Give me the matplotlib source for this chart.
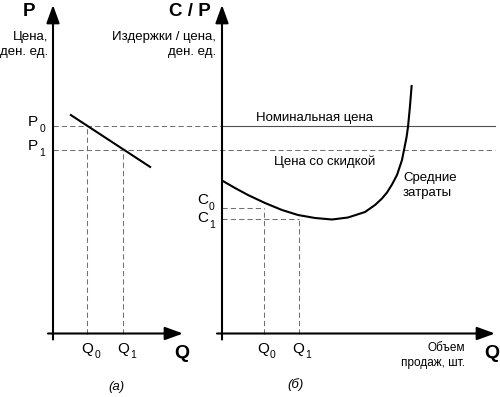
import matplotlib.pyplot as plt

plt.rcParams['font.family'] = ['Liberation Sans', 'DejaVu Sans']

# (а) цена и объём продаж
q_a = [3.4, 7.0]            # Q0, Q1
p_a = [20.8, 18.4]          # P0, P1
demand_q = [1.7, 9.8]
demand_p = [21.9, 16.6]

# (б) средние затраты
q_b = [4.2, 7.7]            # Q0, Q1
c_b = [12.55, 11.45]        # C0, C1
cost_q = [0.0, 1.3, 2.6, 4.3, 6.0, 7.6, 9.3, 11.0, 12.6, 14.3, 15.3, 16.0,
          16.5, 17.0, 17.5, 18.0, 18.2, 18.45, 18.6, 18.8, 18.97]
cost_c = [15.3, 14.55, 13.85, 13.05, 12.35, 11.85, 11.55, 11.4, 11.6, 12.15,
          12.85, 13.5, 14.1, 14.9, 15.85, 17.35, 18.35, 19.6, 20.65, 22.75, 24.85]

W, H = 500, 397
fig = plt.figure(figsize=(W / 100, H / 100), dpi=100)

ax1 = fig.add_axes([53 / W, 1 - 333.5 / H, 130 / W, 328.5 / H])
ax2 = fig.add_axes([222 / W, 1 - 333.5 / H, 273 / W, 328.5 / H])
ax1.set_xlim(0, 13)
ax2.set_xlim(0, 27.3)
for ax in (ax1, ax2):
    ax.set_ylim(0, 32.85)
    ax.axis('off')

dash = dict(color='#707070', lw=0.75, ls=(0, (5, 3)), clip_on=False)
arrow = dict(arrowstyle='-|>,head_length=0.55,head_width=0.2', lw=1.5,
             color='black', shrinkA=0, shrinkB=0, mutation_scale=20)


def axis_arrows(ax, xmax):
    ax.annotate('', xy=(0, 32.85), xytext=(0, -0.6), arrowprops=arrow,
                annotation_clip=False)
    ax.annotate('', xy=(xmax, 0), xytext=(-0.5, 0), arrowprops=arrow,
                annotation_clip=False)


axis_arrows(ax1, 13)
axis_arrows(ax2, 27.3)

# линии цен через обе панели
x_axis2 = ax1.transData.inverted().transform(ax2.transData.transform((0, 0)))[0]
x_end = ax1.transData.inverted().transform(ax2.transData.transform((27.3, 0)))[0]
ax1.plot([0, x_axis2], [p_a[0], p_a[0]], **dash)
ax2.plot([0, 27.3], [p_a[0], p_a[0]], color='#505050', lw=0.8, clip_on=False)
ax1.plot([0, x_end], [p_a[1], p_a[1]], **dash)

# (а)
ax1.plot(demand_q, demand_p, color='black', lw=1.5, clip_on=False,
         solid_capstyle='butt')
for q, p in zip(q_a, p_a):
    ax1.plot([q, q], [0, p], **dash)

# (б)
ax2.plot(cost_q, cost_c, color='black', lw=1.5, clip_on=False,
         solid_joinstyle='round', solid_capstyle='butt')
for q, c in zip(q_b, c_b):
    ax2.plot([q, q], [0, c], **dash)
    ax2.plot([0, q], [c, c], **dash)


# подписи с индексами: буква и цифра отдельно
def sub_label(ax, x, y, letter, digit, dx, dy, va):
    t = ax.annotate(letter, xy=(x, y), xytext=(dx, dy), textcoords='offset pixels',
                    ha='left', va=va, fontsize=11)
    ax.annotate(digit, xy=(1, 0), xycoords=t, xytext=(1, -5),
                textcoords='offset pixels', ha='left', va='bottom', fontsize=7.5)


for i, p in enumerate(p_a):
    sub_label(ax1, 0, p, 'P', str(i), -25, 0, 'baseline')
for i, q in enumerate(q_a):
    sub_label(ax1, q, 0, 'Q', str(i), -5.5, -8, 'top')
for i, q in enumerate(q_b):
    sub_label(ax2, q, 0, 'Q', str(i), -7, -8, 'top')
for i, (c, dy) in enumerate(zip(c_b, [4, -3])):
    sub_label(ax2, 0, c, 'C', str(i), -25, dy, 'baseline')


def T(x, y, s, **kw):
    kw.setdefault('ha', 'center')
    kw.setdefault('va', 'center')
    kw.setdefault('fontsize', 9.5)
    fig.text(x / W, 1 - y / H, s, **kw)


T(29, 12, 'P', fontsize=13.5, fontweight='bold')
T(48, 37, 'Цена,', ha='right')
T(48, 52, 'ден. ед.', ha='right')
T(190, 12, 'C / P', fontsize=13.5, fontweight='bold')
T(216, 37, 'Издержки / цена,', ha='right')
T(216, 52, 'ден. ед.', ha='right')
T(315, 118, 'Номинальная цена')
T(325, 162, 'Цена со скидкой')
T(403, 178, 'Средние', ha='left')
T(403, 193, 'затраты', ha='left')
T(465, 348, 'Объем', ha='right', fontsize=8.5)
T(465, 363, 'продаж, шт.', ha='right', fontsize=8.5)
T(182, 353, 'Q', fontsize=14, fontweight='bold')
T(492, 353, 'Q', fontsize=14, fontweight='bold')
T(116, 387, '(а)', fontstyle='italic')
T(295, 385, '(б)', fontstyle='italic')

fig.savefig('out.png', dpi=100)
